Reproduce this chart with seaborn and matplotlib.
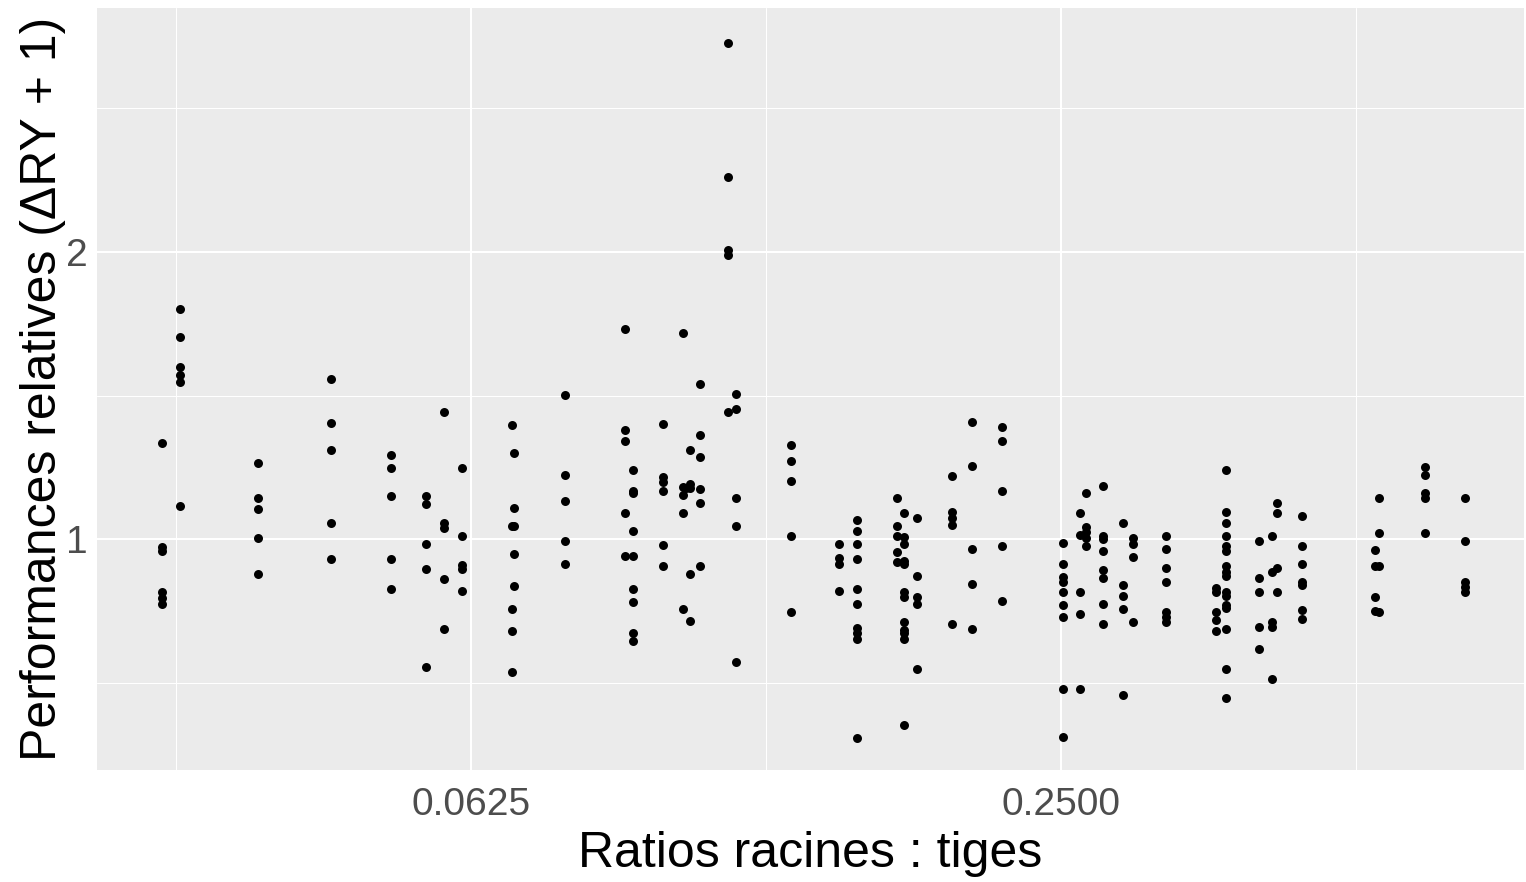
import pandas as pd
import seaborn as sns
import matplotlib.pyplot as plt
from matplotlib.ticker import FixedLocator, FixedFormatter, NullFormatter

# ratio racines : tiges of each group of points
ratios = [0.0302, 0.0315, 0.0379, 0.0450, 0.0518, 0.0562, 0.0587, 0.0612,
          0.0688, 0.0691, 0.0780, 0.0897, 0.0914, 0.0981, 0.1028, 0.1036,
          0.1046, 0.1070, 0.1143, 0.1165, 0.1326, 0.1484, 0.1547, 0.1700,
          0.1730, 0.1784, 0.1935, 0.2028, 0.2178, 0.2510, 0.2616, 0.2649,
          0.2759, 0.2894, 0.2963, 0.3197, 0.3599, 0.3687, 0.3981, 0.4102,
          0.4150, 0.4401, 0.5228, 0.5281, 0.5880, 0.6459]

# performances relatives (delta RY + 1) for each ratio
perfs = [
    [1.263, 0.983, 0.973, 0.881, 0.868, 0.856],
    [1.742, 1.630, 1.515, 1.488, 1.462, 1.085],
    [1.203, 1.104, 1.076, 1.003, 0.921],
    [1.472, 1.325, 1.240, 1.040, 0.955],
    [1.226, 1.187, 1.111, 0.955, 0.887],
    [1.111, 1.090, 0.990, 0.932, 0.735],
    [1.359, 1.040, 1.027, 0.910, 0.805],
    [1.188, 1.008, 0.940, 0.931, 0.883],
    [1.318, 1.033, 0.846, 0.801, 0.727],
    [1.233, 1.078, 1.033, 0.966, 0.894],
    [1.418, 1.167, 1.098, 0.996, 0.943],
    [1.660, 1.302, 1.269, 1.065, 0.961],
    [1.182, 1.125, 1.118, 1.021, 0.961, 0.888, 0.861, 0.798, 0.782],
    [1.321, 1.163, 1.149, 1.125, 0.986, 0.938],
    [1.645, 1.136, 1.113, 1.067, 0.846],
    [1.132],
    [1.241, 1.143, 1.132, 0.920, 0.821],
    [1.455, 1.288, 1.219, 1.130, 1.093, 0.938],
    [3.312, 2.398, 2.008, 1.986, 1.360],
    [1.422, 1.370, 1.106, 1.034, 0.745],
    [1.256, 1.209, 1.152, 1.009, 0.840],
    [0.990, 0.956, 0.943, 0.883],
    [1.048, 1.021, 0.989, 0.954, 0.887, 0.856, 0.807, 0.798, 0.786, 0.620],
    [1.104, 1.033, 1.008, 0.971, 0.948],
    [1.065, 1.007, 0.989, 0.949, 0.943, 0.882, 0.871, 0.820, 0.804, 0.798,
     0.786, 0.639],
    [1.052, 0.916, 0.871, 0.856, 0.731],
    [1.166, 1.069, 1.052, 1.036, 0.815],
    [1.327, 1.195, 0.978, 0.899, 0.805],
    [1.311, 1.269, 1.125, 0.984, 0.862],
    [0.991, 0.943, 0.913, 0.903, 0.882, 0.854, 0.830, 0.697, 0.621],
    [1.065, 1.011, 0.882, 0.836, 0.697],
    [1.120, 1.030, 1.019, 1.003, 0.984],
    [1.139, 1.008, 1.000, 0.973, 0.929, 0.911, 0.856, 0.816],
    [1.040, 0.895, 0.873, 0.846, 0.687],
    [1.003, 0.989, 0.959, 0.820],
    [1.009, 0.978, 0.933, 0.903, 0.840, 0.830, 0.820],
    [0.889, 0.882, 0.840, 0.824, 0.801],
    [1.182, 1.069, 1.040, 1.008, 0.984, 0.973, 0.938, 0.925, 0.916, 0.882,
     0.873, 0.854, 0.847, 0.805, 0.731, 0.683],
    [0.997, 0.911, 0.882, 0.810, 0.767],
    [1.008, 0.925, 0.820, 0.810, 0.714],
    [1.093, 1.065, 0.933, 0.882],
    [1.058, 0.984, 0.943, 0.903, 0.896, 0.844, 0.825],
    [0.975, 0.938, 0.870, 0.842],
    [1.104, 1.015, 0.937, 0.840],
    [1.192, 1.168, 1.118, 1.104, 1.015],
    [1.104, 0.997, 0.903, 0.892, 0.882],
]

x_ticks = [0.0625, 0.25]
x_labels = ["0.0625", "0.2500"]
y_ticks = [1, 2]
y_labels = ["1", "2"]

rows = []
for r, vals in zip(ratios, perfs):
    for v in vals:
        rows.append({"ratio": r, "perf": v})
df = pd.DataFrame(rows)

sns.set_theme(style="darkgrid", rc={"axes.facecolor": "#EBEBEB", "grid.color": "white"})
plt.rcParams['font.family'] = ['Liberation Sans', 'DejaVu Sans']

fig = plt.figure(figsize=(15.26, 8.82), dpi=100)
ax = fig.add_axes([97 / 1526, 1 - 770 / 882, (1524 - 97) / 1526, (770 - 8) / 882])
sns.scatterplot(data=df, x="ratio", y="perf", color="black", s=42, linewidth=0, ax=ax)

ax.set_xscale("log", base=2)
ax.set_yscale("log", base=2)
ax.set_xlim(0.02594, 0.7421)
ax.set_ylim(0.5735, 3.604)

ax.xaxis.set_major_locator(FixedLocator(x_ticks))
ax.xaxis.set_major_formatter(FixedFormatter(x_labels))
ax.xaxis.set_minor_locator(FixedLocator([0.03125, 0.125, 0.5]))
ax.xaxis.set_minor_formatter(NullFormatter())
ax.yaxis.set_major_locator(FixedLocator(y_ticks))
ax.yaxis.set_major_formatter(FixedFormatter(y_labels))
ax.yaxis.set_minor_locator(FixedLocator([2 ** -0.5, 2 ** 0.5, 2 ** 1.5]))
ax.yaxis.set_minor_formatter(NullFormatter())

ax.grid(which="major", color="white", linewidth=1.5)
ax.grid(which="minor", color="white", linewidth=0.75)
ax.tick_params(which="major", length=4, width=1, color="#333333",
               labelsize=28, labelcolor="#4D4D4D")
ax.tick_params(axis="x", which="major", pad=8)
ax.tick_params(axis="y", which="major", pad=3)
ax.tick_params(which="minor", length=0)
for s in ax.spines.values():
    s.set_visible(False)

ax.set_xlabel("Ratios racines : tiges", fontsize=36, color="black", labelpad=6)
ax.set_ylabel("Performances relatives (ΔRY + 1)", fontsize=36, color="black", labelpad=0)

fig.savefig("out.png", dpi=100)
